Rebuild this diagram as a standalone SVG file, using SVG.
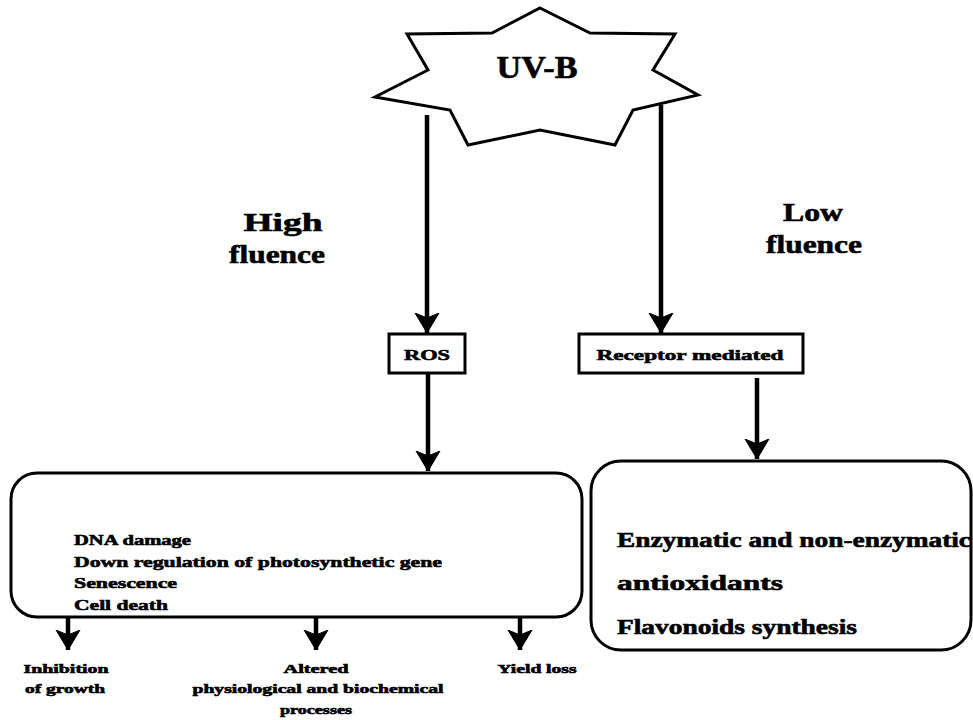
<svg xmlns="http://www.w3.org/2000/svg" width="973" height="720" viewBox="0 0 973 720">
  <style>
    .t { font-family: "Liberation Serif", "Times New Roman", serif; font-weight: bold; fill: #000; stroke: #000; stroke-width: 0.6; }
    .box { fill: #fff; stroke: #000; stroke-width: 3; }
    .edge { stroke: #000; stroke-width: 4.5; fill: none; }
  </style>
  <defs>
    <!-- filled, slightly notched arrowhead; tip sits on the line end -->
    <marker id="arrow" markerUnits="userSpaceOnUse" markerWidth="22" markerHeight="26" refX="20" refY="13" orient="auto">
      <path d="M0,1 L20,13 L0,25 L5,13 Z" fill="#000" stroke="#000" stroke-width="1" stroke-linejoin="miter"/>
    </marker>
  </defs>
  <rect width="973" height="720" fill="#fff"/>

  <!-- source: UV-B burst -->
  <g id="uvb">
    <polygon points="540,8 590,33 675,34 653,70 698,95 633,110 615,145 540,130 468,145 450,110 375,97 428,70 407,34 492,33" fill="#fff" stroke="#000" stroke-width="3" stroke-linejoin="miter"/>
    <text class="t" x="537" y="78" font-size="32" text-anchor="middle" textLength="81" lengthAdjust="spacingAndGlyphs">UV-B</text>
  </g>

  <!-- branch labels -->
  <g id="high-fluence">
    <text class="t" x="283" y="231" font-size="26" text-anchor="middle" textLength="79" lengthAdjust="spacingAndGlyphs">High</text>
    <text class="t" x="277" y="263" font-size="26" text-anchor="middle" textLength="96" lengthAdjust="spacingAndGlyphs">fluence</text>
  </g>
  <g id="low-fluence">
    <text class="t" x="813" y="221" font-size="26" text-anchor="middle" textLength="60" lengthAdjust="spacingAndGlyphs">Low</text>
    <text class="t" x="814" y="253" font-size="26" text-anchor="middle" textLength="96" lengthAdjust="spacingAndGlyphs">fluence</text>
  </g>

  <g id="ros">
    <rect class="box" x="389" y="334" width="76" height="39" stroke-width="2.5"/>
    <text class="t" x="427" y="360" font-size="15" text-anchor="middle" textLength="46" lengthAdjust="spacingAndGlyphs">ROS</text>
  </g>

  <g id="receptor">
    <rect class="box" x="579" y="334" width="224" height="39" stroke-width="2.5"/>
    <text class="t" x="690" y="360" font-size="15" text-anchor="middle" textLength="187" lengthAdjust="spacingAndGlyphs">Receptor mediated</text>
  </g>

  <g id="damage">
    <rect class="box" x="11" y="473" width="571" height="144" rx="26"/>
    <text class="t" x="74" y="545" font-size="15" textLength="117" lengthAdjust="spacingAndGlyphs">DNA damage</text>
    <text class="t" x="74" y="567" font-size="15" textLength="368" lengthAdjust="spacingAndGlyphs">Down regulation of photosynthetic gene</text>
    <text class="t" x="74" y="588" font-size="15" textLength="103" lengthAdjust="spacingAndGlyphs">Senescence</text>
    <text class="t" x="74" y="610" font-size="15" textLength="94" lengthAdjust="spacingAndGlyphs">Cell death</text>
  </g>

  <g id="antioxidants">
    <rect class="box" x="591" y="461" width="380" height="189" rx="30"/>
    <text class="t" x="617" y="547" font-size="21" textLength="354" lengthAdjust="spacingAndGlyphs">Enzymatic and non-enzymatic</text>
    <text class="t" x="617" y="590" font-size="21" textLength="166" lengthAdjust="spacingAndGlyphs">antioxidants</text>
    <text class="t" x="617" y="634" font-size="21" textLength="240" lengthAdjust="spacingAndGlyphs">Flavonoids synthesis</text>
  </g>

  <g id="growth">
    <text class="t" x="66" y="673" font-size="13" text-anchor="middle" textLength="85" lengthAdjust="spacingAndGlyphs">Inhibition</text>
    <text class="t" x="65" y="693" font-size="13" text-anchor="middle" textLength="80" lengthAdjust="spacingAndGlyphs">of growth</text>
  </g>
  <g id="physiology">
    <text class="t" x="316" y="673" font-size="13" text-anchor="middle" textLength="65" lengthAdjust="spacingAndGlyphs">Altered</text>
    <text class="t" x="318" y="693" font-size="13" text-anchor="middle" textLength="251" lengthAdjust="spacingAndGlyphs">physiological and biochemical</text>
    <text class="t" x="316" y="714" font-size="13" text-anchor="middle" textLength="72" lengthAdjust="spacingAndGlyphs">processes</text>
  </g>
  <g id="yield">
    <text class="t" x="537" y="673" font-size="13" text-anchor="middle" textLength="79" lengthAdjust="spacingAndGlyphs">Yield loss</text>
  </g>

  <!-- connectors -->
  <g id="connectors">
    <line class="edge" x1="427" y1="115" x2="427" y2="333" marker-end="url(#arrow)"/>
    <line class="edge" x1="661" y1="105" x2="661" y2="333" marker-end="url(#arrow)"/>
    <line class="edge" x1="428" y1="373" x2="428" y2="471" marker-end="url(#arrow)"/>
    <line class="edge" x1="757" y1="378" x2="757" y2="459" marker-end="url(#arrow)"/>
    <line class="edge" x1="68" y1="618" x2="68" y2="650" marker-end="url(#arrow)"/>
    <line class="edge" x1="316" y1="618" x2="316" y2="650" marker-end="url(#arrow)"/>
    <line class="edge" x1="520" y1="618" x2="520" y2="650" marker-end="url(#arrow)"/>
  </g>
</svg>
